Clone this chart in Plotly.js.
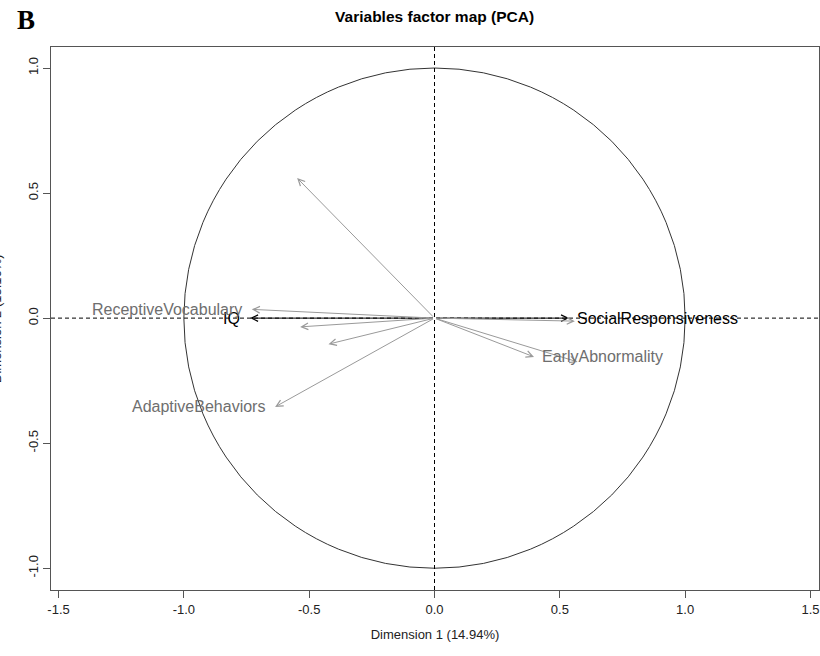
<!DOCTYPE html>
<html>
<head>
<meta charset="utf-8">
<script src="https://cdn.plot.ly/plotly-3.0.1.min.js"></script>
<style>
html,body{margin:0;padding:0;background:#fff;}
#chart{width:820px;height:656px;}
</style>
</head>
<body>
<div id="chart"></div>
<script>
// ---- data ----
const varLabels = ["IQ", "SocialResponsiveness", "ReceptiveVocabulary", "AdaptiveBehaviors", "EarlyAbnormality", "", "", "", "", ""];
const varGroup  = ["active", "active", "other", "other", "other", "other", "other", "other", "other", "other"];
const dim1 = [-0.736, 0.537, -0.729, -0.636, 0.397, -0.548, -0.536, -0.423, 0.571, 0.560];
const dim2 = [ 0.000, 0.000,  0.035, -0.355, -0.155, 0.560, -0.035, -0.104, -0.175, -0.012];
const xTickVals = [-1.5, -1.0, -0.5, 0.0, 0.5, 1.0, 1.5];
const xTickText = ["-1.5", "-1.0", "-0.5", "0.0", "0.5", "1.0", "1.5"];
const yTickVals = [-1.0, -0.5, 0.0, 0.5, 1.0];
const yTickText = ["-1.0", "-0.5", "0.0", "0.5", "1.0"];
const circleRadius = 1;
const chartTitle = "Variables factor map (PCA)";
const xTitle = "Dimension 1 (14.94%)";
const yTitle = "Dimension 2 (13.16%)";
const panelLetter = "B";

// ---- styles ----
const arrowColor = {active: "#000000", other: "#9a9a9a"};
const labelColor = {active: "#000000", other: "#6e6e6e"};
const baseFont = "Liberation Sans, Arial, sans-serif";

const annotations = [];
for (let i = 0; i < dim1.length; i++) {
  annotations.push({
    x: dim1[i], y: dim2[i], xref: "x", yref: "y",
    ax: 0, ay: 0, axref: "x", ayref: "y",
    showarrow: true, text: "",
    arrowhead: 5, arrowsize: 1.3, arrowwidth: 1,
    arrowcolor: arrowColor[varGroup[i]],
    standoff: 0, startstandoff: 0
  });
}
for (let i = 0; i < dim1.length; i++) {
  if (!varLabels[i]) continue;
  const left = dim1[i] < 0;
  annotations.push({
    x: dim1[i], y: dim2[i], xref: "x", yref: "y",
    text: varLabels[i], showarrow: false,
    xanchor: left ? "right" : "left", yanchor: "middle",
    xshift: left ? -8 : 6,
    font: {family: baseFont, size: 16, color: labelColor[varGroup[i]]}
  });
}
annotations.push({
  text: panelLetter, xref: "paper", yref: "paper",
  x: -0.047, y: 1.0, xanchor: "left", yanchor: "bottom", yshift: 10,
  showarrow: false,
  font: {family: "Liberation Serif, Times New Roman, serif", size: 27, color: "#000", weight: "bold"}
});
annotations.push({
  text: yTitle, xref: "paper", yref: "paper",
  x: -0.071, y: 0.5, xanchor: "center", yanchor: "middle",
  textangle: -90, showarrow: false,
  font: {family: baseFont, size: 13, color: "#222"}
});

const shapes = [
  {type: "circle", xref: "x", yref: "y", x0: -circleRadius, x1: circleRadius, y0: -circleRadius, y1: circleRadius,
   line: {color: "#333", width: 1}, layer: "below"},
  {type: "line", xref: "x", yref: "y domain", x0: 0, x1: 0, y0: 0, y1: 1,
   line: {color: "#000", width: 1, dash: "4px,3px"}},
  {type: "line", xref: "x domain", yref: "y", x0: 0, x1: 1, y0: 0, y1: 0,
   line: {color: "#000", width: 1, dash: "4px,3px"}}
];

const layout = {
  width: 820, height: 656,
  margin: {l: 51, r: 1, t: 47, b: 66},
  paper_bgcolor: "#fff", plot_bgcolor: "#fff",
  showlegend: false,
  title: {text: "<b>" + chartTitle + "</b>", x: 0.53, xanchor: "center", y: 0.975, yanchor: "middle",
          font: {family: baseFont, size: 15.5, color: "#000"}},
  xaxis: {
    range: [-1.53, 1.534], showgrid: false, zeroline: false,
    showline: true, mirror: true, linecolor: "#555", linewidth: 1,
    ticks: "outside", ticklen: 7, tickcolor: "#555",
    tickvals: xTickVals, ticktext: xTickText,
    tickfont: {family: baseFont, size: 13, color: "#222"},
    title: {text: xTitle, font: {family: baseFont, size: 13, color: "#222"}, standoff: 14}
  },
  yaxis: {
    range: [-1.087, 1.084], showgrid: false, zeroline: false,
    showline: true, mirror: true, linecolor: "#555", linewidth: 1,
    ticks: "outside", ticklen: 7, tickcolor: "#555",
    tickvals: yTickVals, ticktext: yTickText, tickangle: -90,
    tickfont: {family: baseFont, size: 13, color: "#222"}
  },
  shapes: shapes,
  annotations: annotations
};

Plotly.newPlot("chart", [{x: [], y: [], type: "scatter", mode: "markers", hoverinfo: "skip"}], layout, {displayModeBar: false, staticPlot: true});
</script>
</body>
</html>
